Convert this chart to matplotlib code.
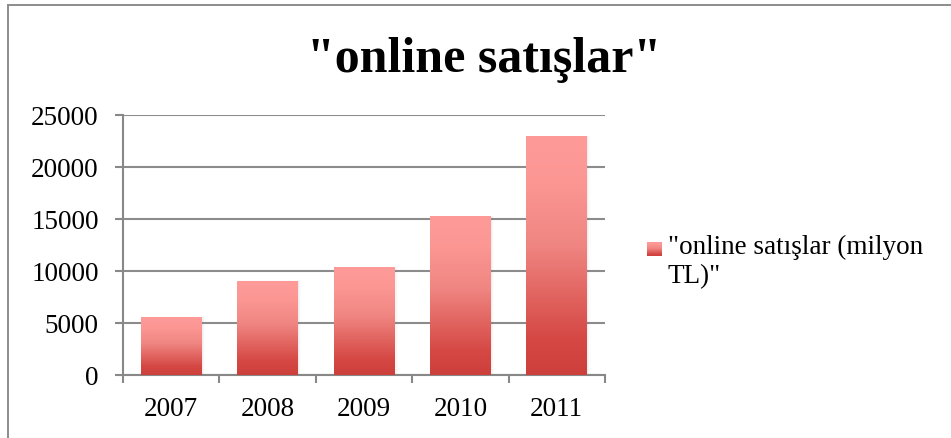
import numpy as np
import matplotlib
matplotlib.use("Agg")
import matplotlib.pyplot as plt
from matplotlib.colors import LinearSegmentedColormap
from matplotlib.lines import Line2D
from matplotlib.patches import Rectangle

years = ["2007", "2008", "2009", "2010", "2011"]
sales = [5500, 9000, 10300, 15200, 22900]
series_label = '"online satışlar (milyon\nTL)"'
title = '"online satışlar"'

plt.rcParams["font.family"] = ["Liberation Serif", "DejaVu Serif"]

grad = LinearSegmentedColormap.from_list(
    "bar", [(0.0, "#cd3f3a"), (0.15, "#d54844"), (0.55, "#f08682"), (0.8, "#fb9693"), (1.0, "#fe9b98")])
g = np.linspace(0, 1, 256).reshape(-1, 1)

fig = plt.figure(figsize=(9.51, 4.38), dpi=100)
fig.patch.set_facecolor("white")
# chart frame: only top and left edges fall inside the image
fig.add_artist(Line2D([0.0084, 1.0], [0.989, 0.989], transform=fig.transFigure,
                      color="#8c8c8c", lw=1.4))
fig.add_artist(Line2D([0.0084, 0.0084], [0.0, 0.989], transform=fig.transFigure,
                      color="#8c8c8c", lw=1.4))

ax = fig.add_axes([0.1293, 0.1438, 0.5068, 0.5936])
x = np.arange(len(years))
width = 0.63
bars = ax.bar(x, sales, width=width, color="none", zorder=3)
for b, v in zip(bars, sales):
    x0 = b.get_x()
    # soft drop shadow
    for k, a in enumerate([0.05, 0.035, 0.02]):
        d = 0.012 * (k + 1)
        ax.add_patch(Rectangle((x0 + d, 0), width, v + 60 * k,
                               color="#666666", alpha=a, lw=0, zorder=2))
    ax.imshow(g, cmap=grad, origin="lower", aspect="auto",
              extent=[x0, x0 + width, 0, v], zorder=3)

ax.set_xlim(-0.5, len(years) - 0.5)
ax.set_ylim(0, 25000)
ax.set_yticks(range(0, 25001, 5000))
ax.set_xticks(x)
ax.set_xticklabels(years)
ax.set_xticks(np.arange(-0.5, len(years)), minor=True)
ax.tick_params(axis="x", which="major", length=0, pad=16, labelsize=19.5)
ax.tick_params(axis="x", which="minor", length=6, width=1.5, color="#888888")
ax.tick_params(axis="y", length=5.5, width=1.5, color="#888888", pad=12, labelsize=19.5)
ax.grid(axis="y", color="#8c8c8c", lw=1.5, zorder=1)
for s in ("top", "right"):
    ax.spines[s].set_visible(False)
for s in ("left", "bottom"):
    ax.spines[s].set_color("#888888")
    ax.spines[s].set_linewidth(1.5)

fig.text(0.509, 0.8356, title, ha="center", va="baseline", fontsize=36, fontweight="bold")

# legend: gradient swatch + label
key = fig.add_axes([647 / 951, 1 - 256 / 438, 15 / 951, 14 / 438])
key.imshow(g, cmap=grad, origin="lower", aspect="auto")
key.set_axis_off()
fig.text(668 / 951, 1 - 235 / 438, series_label, ha="left", va="top",
         fontsize=19.5, linespacing=1.2)

fig.savefig("out.png", dpi=100, facecolor="white")
